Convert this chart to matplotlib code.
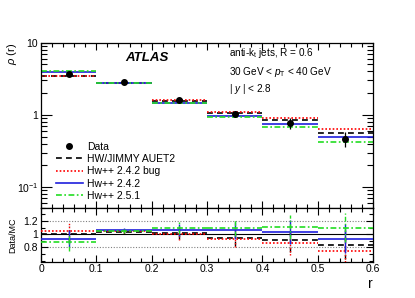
import matplotlib
matplotlib.use("Agg")
import matplotlib.pyplot as plt
from matplotlib.lines import Line2D
from matplotlib.ticker import MultipleLocator, FixedLocator, FixedFormatter, LogLocator, NullFormatter
import numpy as np

plt.rcParams['font.family'] = ['Liberation Sans', 'DejaVu Sans']
plt.rcParams['mathtext.fontset'] = 'custom'
plt.rcParams['mathtext.rm'] = 'Liberation Sans'
plt.rcParams['mathtext.it'] = 'Liberation Sans:italic'
plt.rcParams['mathtext.bf'] = 'Liberation Sans:bold'

# ---- data ----
bin_edges = [0.0, 0.1, 0.2, 0.3, 0.4, 0.5, 0.6]
data_vals = [3.69, 2.90, 1.61, 1.03, 0.78, 0.47]
data_errs = [0.25, 0.08, 0.08, 0.10, 0.14, 0.11]

mc_labels = ["HW/JIMMY AUET2", "Hw++ 2.4.2 bug", "Hw++ 2.4.2", "Hw++ 2.5.1"]
mc_jimmy = [3.50, 2.75, 1.58, 1.08, 0.85, 0.56]
mc_bug = [3.42, 2.75, 1.60, 1.11, 0.90, 0.63]
mc_242 = [3.97, 2.75, 1.48, 0.97, 0.76, 0.50]
mc_251 = [4.10, 2.76, 1.45, 0.94, 0.69, 0.42]

ratio_jimmy = [1.00, 1.04, 1.02, 0.95, 0.91, 0.84]
ratio_bug = [1.05, 1.05, 1.01, 0.93, 0.86, 0.75]
ratio_242 = [0.93, 1.06, 1.07, 1.06, 1.03, 0.93]
ratio_251 = [0.88, 1.05, 1.10, 1.10, 1.11, 1.10]
ratio_errs = [0.13, 0.03, 0.09, 0.13, 0.18, 0.22]

y_tick_vals = [0.1, 1, 10]
y_tick_labels = [r'$10^{-1}$', '1', '10']

mc_colors = ["black", "red", "#1f1fdd", "#22dd22"]
mc_styles = [(0, (3.5, 2.5)), (0, (1, 1.2)), "-", (0, (3.5, 1.5, 1, 1.5))]

edges = np.array(bin_edges)
lo, hi = edges[:-1], edges[1:]
centers = 0.5 * (lo + hi)

fig = plt.figure(figsize=(4.15, 2.98), dpi=100)
ax = fig.add_axes([0.0988, 0.303, 0.80, 0.5537])
axr = fig.add_axes([0.0988, 0.1218, 0.80, 0.1812], sharex=ax)

mc_sets = [mc_jimmy, mc_bug, mc_242, mc_251]
ratio_sets = [ratio_jimmy, ratio_bug, ratio_242, ratio_251]

for vals, c, ls in zip(mc_sets, mc_colors, mc_styles):
    ax.hlines(vals, lo, hi, colors=c, linestyles=ls, lw=1.2, zorder=2)

ax.errorbar(centers, data_vals, yerr=data_errs, fmt='o', color='black',
            ms=4, elinewidth=0.9, capsize=0, zorder=5)

ax.set_yscale('log')
ax.set_ylim(0.052, 10)
ax.set_xlim(0, 0.6)

# ratio panel
axr.axhline(1.0, color='black', lw=0.8, zorder=1)
for yv in (0.8, 1.2):
    axr.axhline(yv, color='grey', lw=0.8, ls=(0, (1, 1.5)), zorder=1)
for vals, c, ls in zip(ratio_sets, mc_colors, mc_styles):
    axr.hlines(vals, lo, hi, colors=c, linestyles=ls, lw=1.2, zorder=3)
    axr.vlines(centers, np.array(vals) - np.array(ratio_errs),
               np.array(vals) + np.array(ratio_errs), colors=c,
               linestyles=ls, lw=1.0, zorder=3)
axr.set_ylim(0.585, 1.40)

# ticks
for a in (ax, axr):
    a.tick_params(which='both', direction='in', top=True, right=True,
                  labelsize=7.5, pad=2, width=0.8)
    a.xaxis.set_major_locator(MultipleLocator(0.1))
    a.xaxis.set_minor_locator(MultipleLocator(0.02))
    for s in a.spines.values():
        s.set_linewidth(0.9)
ax.tick_params(which='major', length=8)
ax.tick_params(which='minor', length=4)
ax.tick_params(axis='x', which='major', length=5)
ax.tick_params(axis='x', which='minor', length=3)
ax.yaxis.set_major_locator(FixedLocator(y_tick_vals))
ax.yaxis.set_major_formatter(FixedFormatter(y_tick_labels))
ax.yaxis.set_minor_locator(LogLocator(base=10, subs=np.arange(2, 10), numticks=10))
ax.yaxis.set_minor_formatter(NullFormatter())
plt.setp(ax.get_xticklabels(), visible=False)

axr.yaxis.set_major_locator(FixedLocator([0.8, 1.0, 1.2]))
axr.yaxis.set_major_formatter(FixedFormatter(['0.8', '1', '1.2']))
axr.yaxis.set_minor_locator(MultipleLocator(0.1))
axr.tick_params(which='major', length=5)
axr.tick_params(which='minor', length=3)
axr.set_xticks([0, 0.1, 0.2, 0.3, 0.4, 0.5, 0.6])
axr.set_xticklabels(['0', '0.1', '0.2', '0.3', '0.4', '0.5', '0.6'])

# labels
fig.text(0.030, 0.856, r'$\rho$ (r)', rotation=90, ha='center', va='top', fontsize=8)
fig.text(0.030, 0.212, 'Data/MC', rotation=90, ha='center', va='center', fontsize=6.5)
fig.text(0.899, 0.022, 'r', ha='right', va='bottom', fontsize=10)

ax.text(0.253, 0.907, 'ATLAS', transform=ax.transAxes, fontsize=9.5,
        fontweight='bold', fontstyle='italic', ha='left', va='center')
ax.text(0.567, 0.9375, r'anti-k$_{\mathrm{t}}$ jets, R = 0.6', transform=ax.transAxes,
        fontsize=7.2, ha='left', va='center')
ax.text(0.567, 0.825, r'30 GeV < $p_{\mathrm{T}}$ < 40 GeV', transform=ax.transAxes,
        fontsize=7.2, ha='left', va='center')
ax.text(0.567, 0.72, r'| $y$ | < 2.8', transform=ax.transAxes,
        fontsize=7.2, ha='left', va='center')

handles = [Line2D([], [], color='black', marker='o', ls='none', ms=4)]
for c, ls in zip(mc_colors, mc_styles):
    handles.append(Line2D([], [], color=c, ls=ls, lw=1.2))
ax.legend(handles, ['Data'] + mc_labels, loc='upper left',
          bbox_to_anchor=(0.045, 0.40), frameon=False, fontsize=7.5,
          handlelength=2.6, handletextpad=0.4, labelspacing=0.22,
          borderaxespad=0, borderpad=0)

fig.savefig('out.png', dpi=100)
